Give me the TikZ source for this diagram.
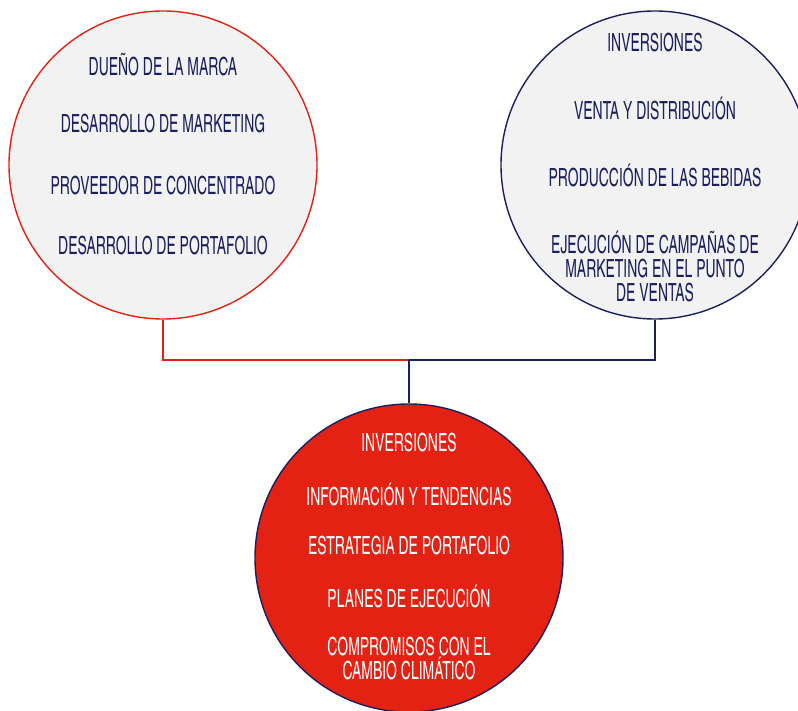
\documentclass[tikz,border=0pt]{standalone}
\usepackage{fontspec}
\setmainfont{TeX Gyre Heros Cn}[FakeStretch=0.68]
\usepackage{tikz}
\usetikzlibrary{positioning}
\usepackage{xcolor}
\definecolor{rojo}{HTML}{E32213}
\definecolor{marino}{HTML}{1B1F5E}
\definecolor{gris}{HTML}{F2F2F2}

\begin{document}
\begin{tikzpicture}[
  x=1pt, y=1pt,
  area/.style={circle, fill=gris, line width=1.4pt, minimum size=308pt, inner sep=0pt},
  item/.style={font=\fontsize{25}{24}\selectfont, text=marino, align=center, inner sep=0pt},
  itemw/.style={item, text=white},
  link/.style={line width=1.4pt}
]
\useasboundingbox (0,0) rectangle (798,710);

% Circles
\node[area, draw=rojo] (marca) at (163,545) {};
\node[area, draw=marino] (embotellador) at (655,545) {};
\node[area, draw=marino, fill=rojo] (sistema) at (409,152) {};

% Left texts
\node[item] (m1) at (163,645) {DUEÑO DE LA MARCA};
\node[item] (m2) at (163,586) {DESARROLLO DE MARKETING};
\node[item] (m3) at (163,524) {PROVEEDOR DE CONCENTRADO};
\node[item] (m4) at (163,464) {DESARROLLO DE PORTAFOLIO};

% Right texts
\node[item] (e1) at (655,667) {INVERSIONES};
\node[item] (e2) at (655,602) {VENTA Y DISTRIBUCIÓN};
\node[item] (e3) at (655,535) {PRODUCCIÓN DE LAS BEBIDAS};
\node[item] (e4) at (655,444) {EJECUCIÓN DE CAMPAÑAS DE\\MARKETING EN EL PUNTO\\DE VENTAS};

% Bottom texts
\node[itemw] (s1) at (409,267) {INVERSIONES};
\node[itemw] (s2) at (409,216) {INFORMACIÓN Y TENDENCIAS};
\node[itemw] (s3) at (409,164) {ESTRATEGIA DE PORTAFOLIO};
\node[itemw] (s4) at (409,114) {PLANES DE EJECUCIÓN};
\node[itemw] (s5) at (409,51) {COMPROMISOS CON EL\\CAMBIO CLIMÁTICO};

% Connections
\coordinate (union) at (409,350);
\draw[link, rojo] (marca.south) |- (union);
\draw[link, marino] (embotellador.south) |- (union);
\draw[link, marino] (union) -- (sistema.north);

\end{tikzpicture}
\end{document}
